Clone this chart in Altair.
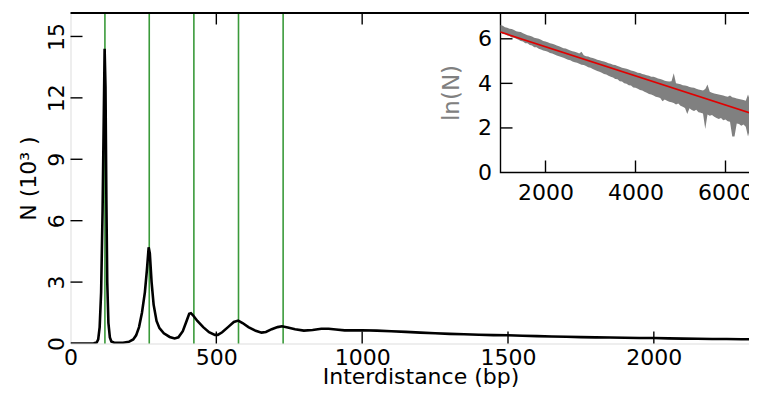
import altair as alt
import pandas as pd

# ---------------- data ----------------
# main histogram (interdistance in bp, counts in 10^3)
bp = [0, 50, 80, 90, 95, 100, 105, 110, 114, 117, 120, 123, 126, 130, 135, 140, 150,
      180, 200, 215, 225, 235, 245, 255, 262, 268, 272, 278, 285, 295, 305, 320, 340,
      357, 370, 385, 398, 407, 413, 420, 435, 455, 475, 495, 505, 520, 540, 560, 575,
      590, 610, 635, 655, 670, 690, 710, 725, 745, 770, 800, 830, 860, 885, 910, 940,
      970, 1000, 1050, 1100, 1150, 1200, 1250, 1300, 1350, 1400, 1450, 1500, 1550,
      1600, 1650, 1700, 1750, 1800, 1850, 1900, 1950, 2000, 2050, 2100, 2150, 2200,
      2250, 2300, 2350, 2400]
n_k = [0.0, 0.0, 0.01, 0.05, 0.2, 0.8, 2.5, 6.5, 11.0, 14.4, 12.5, 7.0, 3.0, 1.0, 0.3,
       0.1, 0.04, 0.04, 0.08, 0.2, 0.4, 0.8, 1.5, 2.5, 3.6, 4.7, 4.4, 3.0, 1.9, 1.1,
       0.75, 0.5, 0.32, 0.25, 0.3, 0.6, 1.1, 1.45, 1.48, 1.38, 1.1, 0.8, 0.55, 0.42,
       0.42, 0.55, 0.8, 1.05, 1.12, 1.0, 0.8, 0.62, 0.53, 0.56, 0.7, 0.8, 0.84, 0.78,
       0.7, 0.63, 0.66, 0.72, 0.72, 0.68, 0.64, 0.64, 0.65, 0.63, 0.6, 0.57, 0.53, 0.5,
       0.47, 0.45, 0.43, 0.41, 0.4, 0.38, 0.36, 0.34, 0.33, 0.31, 0.3, 0.29, 0.28, 0.27,
       0.27, 0.25, 0.24, 0.23, 0.22, 0.22, 0.21, 0.2, 0.2]
peaks = [118, 270, 423, 576, 729]
main_xticks = [0, 500, 1000, 1500, 2000]
main_yticks = [0, 3, 6, 9, 12, 15]

# inset: ln(N) band (upper / lower envelope of the noisy curve) and linear fit
inset_x = [1000, 1050, 1100, 1150, 1200, 1250, 1300, 1350, 1400, 1450, 1500, 1550,
           1600, 1650, 1700, 1750, 1800, 1850, 1900, 1950, 2000, 2050, 2100, 2150,
           2200, 2250, 2300, 2350, 2400, 2450, 2500, 2550, 2600, 2650, 2700, 2750,
           2800, 2850, 2900, 2950, 3000, 3050, 3100, 3150, 3200, 3250, 3300, 3350,
           3400, 3450, 3500, 3550, 3600, 3650, 3700, 3750, 3800, 3850, 3900, 3950,
           4000, 4050, 4100, 4150, 4200, 4250, 4300, 4350, 4400, 4450, 4500, 4550,
           4600, 4650, 4700, 4750, 4800, 4850, 4900, 4950, 5000, 5050, 5100, 5150,
           5200, 5250, 5300, 5350, 5400, 5450, 5500, 5550, 5600, 5650, 5700, 5750,
           5800, 5850, 5900, 5950, 6000, 6050, 6100, 6150, 6200, 6250, 6300, 6350,
           6400, 6450, 6500, 6550, 6600, 6650, 6700, 6750, 6800]
inset_hi = [6.62, 6.58, 6.52, 6.50, 6.45, 6.44, 6.40, 6.34, 6.32, 6.30, 6.25, 6.20,
            6.16, 6.14, 6.10, 6.05, 6.02, 6.00, 5.96, 5.90, 5.88, 5.84, 5.80, 5.78,
            5.74, 5.70, 5.66, 5.62, 5.58, 5.56, 5.52, 5.48, 5.44, 5.42, 5.38, 5.34,
            5.42, 5.26, 5.22, 5.20, 5.16, 5.14, 5.10, 5.06, 5.04, 5.00, 4.98, 4.95,
            4.90, 4.88, 4.84, 4.82, 4.78, 4.74, 4.70, 4.68, 4.66, 4.62, 4.58, 4.55,
            4.52, 4.48, 4.46, 4.42, 4.40, 4.36, 4.34, 4.30, 4.30, 4.26, 4.22, 4.20,
            4.16, 4.12, 4.10, 4.08, 4.10, 4.45, 4.00, 3.98, 3.96, 3.92, 3.90, 3.88,
            3.84, 3.82, 3.80, 3.76, 3.72, 3.70, 3.68, 3.75, 3.95, 3.62, 3.58, 3.55,
            3.52, 3.50, 3.48, 3.45, 3.42, 3.40, 3.45, 3.38, 3.35, 3.32, 3.30, 3.28,
            3.25, 3.22, 3.50, 3.20, 3.18, 3.15, 3.12, 3.10, 3.08]
inset_lo = [6.28, 6.22, 6.20, 6.15, 6.12, 6.06, 6.05, 6.00, 5.96, 5.90, 5.88, 5.80,
            5.80, 5.72, 5.70, 5.62, 5.62, 5.55, 5.52, 5.48, 5.45, 5.42, 5.36, 5.34,
            5.30, 5.25, 5.22, 5.18, 5.15, 5.10, 5.06, 5.04, 4.98, 4.95, 4.92, 4.88,
            4.84, 4.82, 4.78, 4.72, 4.70, 4.64, 4.60, 4.56, 4.52, 4.48, 4.42, 4.40,
            4.34, 4.30, 4.26, 4.20, 4.18, 4.10, 4.08, 4.00, 3.98, 3.92, 3.90, 3.82,
            3.80, 3.76, 3.70, 3.68, 3.62, 3.58, 3.52, 3.50, 3.46, 3.40, 3.38, 3.34,
            3.20, 3.28, 3.22, 3.18, 3.15, 3.12, 3.05, 3.10, 3.00, 2.95, 2.90, 2.62,
            2.88, 2.80, 2.76, 2.82, 2.70, 2.68, 2.65, 1.95, 2.60, 2.55, 2.58, 2.50,
            2.45, 2.40, 2.45, 2.35, 2.38, 2.30, 2.28, 1.62, 1.62, 2.20, 2.18, 2.10,
            2.15, 2.05, 1.62, 2.00, 1.62, 1.95, 1.62, 2.10, 2.05]
fit_x = [1000, 7000]
fit_y = [6.30, 2.37]
inset_xticks = [2000, 4000, 6000]
inset_yticks = [0, 2, 4, 6]

# ---------------- layout ----------------
W, H = 687, 331          # plot area (the right part is cropped, as in the figure)
MAIN_R = 700             # full length of the main x axis
IN_X0, IN_Y0 = 430, 160  # inset left / bottom inside the plot area
TICK = 12
FS = 22
LFS = 22
FONT = "DejaVu Sans"
LW = 1.4

xs = alt.Scale(domain=[0, 2400], range=[0, MAIN_R], nice=False, zero=False)
ys = alt.Scale(domain=[0, 16.17], nice=False, zero=False)
x_axis = alt.Axis(values=main_xticks, format="d", title="Interdistance (bp)", ticks=False,
                  tickSize=0, domain=False, grid=False, labelFontSize=LFS, titleFontSize=FS,
                  labelPadding=4, labelFlush=False, labelOverlap=False,
                  titleBaseline="alphabetic", titleY=40, titleFontWeight="normal")
y_axis = alt.Axis(values=main_yticks, title="N (10³ )", ticks=False, tickSize=0,
                  domain=False, grid=False, labelFontSize=LFS, titleFontSize=FS,
                  labelAngle=270, labelAlign="center", labelBaseline="alphabetic",
                  labelPadding=7, labelOverlap=False, titleAngle=270,
                  titleAlign="center", titleBaseline="alphabetic", titleX=-35,
                  titleY=H / 2, titleFontWeight="normal")

X = lambda: alt.X("bp:Q", scale=xs, axis=x_axis)
Y = lambda: alt.Y("n:Q", scale=ys, axis=y_axis)

main_df = pd.DataFrame({"bp": bp, "n": n_k})
line = alt.Chart(main_df).mark_line(color="black", strokeWidth=2.6, clip=True).encode(x=X(), y=Y())
green = alt.Chart(pd.DataFrame({"bp": peaks})).mark_rule(
    color="#3a9a3a", strokeWidth=1.6).encode(x=X())
xt_df = pd.DataFrame({"bp": main_xticks[1:]})
xt_bot = alt.Chart(xt_df).mark_rule(color="black", strokeWidth=LW).encode(
    x=X(), y=alt.value(H), y2=alt.value(H - TICK))
xt_top = alt.Chart(xt_df).mark_rule(color="black", strokeWidth=LW).encode(
    x=X(), y=alt.value(0), y2=alt.value(TICK))
yt = alt.Chart(pd.DataFrame({"n": main_yticks[1:]})).mark_rule(
    color="black", strokeWidth=LW).encode(y=Y(), x=alt.value(0), x2=alt.value(TICK))
main = alt.layer(green, line, xt_bot, xt_top, yt)

# inset
isx = alt.Scale(domain=[1000, 7000], range=[IN_X0, MAIN_R], nice=False, zero=False)
isy = alt.Scale(domain=[0, 7.18], range=[IN_Y0, 0], nice=False, zero=False)
ix_axis = alt.Axis(orient="bottom", offset=-(H - IN_Y0), values=inset_xticks, format="d",
                   title="", ticks=False, tickSize=0, domain=False, grid=False,
                   labelFontSize=LFS, labelPadding=10, labelFlush=False, labelOverlap=False)
iy_axis = alt.Axis(orient="left", offset=-IN_X0, values=inset_yticks, title="ln(N)",
                   titleColor="#808080", ticks=False, tickSize=0, domain=False, grid=False,
                   labelFontSize=LFS, titleFontSize=23, labelPadding=9, labelOverlap=False,
                   titleAngle=270, titleAlign="center", titleBaseline="alphabetic",
                   titleX=-42, titleY=IN_Y0 / 2, titleFontWeight="normal")
IX = lambda: alt.X("ix:Q", scale=isx, axis=ix_axis)
IY = lambda: alt.Y("ly:Q", scale=isy, axis=iy_axis)

box = alt.Chart(pd.DataFrame({"ix": [1000], "ix2": [7200], "ly": [0.0], "ly2": [7.18]})).mark_rect(
    fill="white", stroke="black", strokeWidth=LW, clip=True).encode(
    x=IX(), x2="ix2:Q", y=IY(), y2="ly2:Q")
band = alt.Chart(pd.DataFrame({"ix": inset_x, "ly": inset_hi, "ly2": inset_lo})).mark_area(
    color="#808080", clip=True).encode(x=IX(), y=IY(), y2="ly2:Q")
fit = alt.Chart(pd.DataFrame({"ix": fit_x, "ly": fit_y})).mark_line(
    color="#e00000", strokeWidth=1.6, clip=True).encode(x=IX(), y=IY())
it_df = pd.DataFrame({"ix": inset_xticks})
it_bot = alt.Chart(it_df).mark_rule(color="black", strokeWidth=LW).encode(
    x=IX(), y=alt.value(IN_Y0), y2=alt.value(IN_Y0 - TICK))
it_top = alt.Chart(it_df).mark_rule(color="black", strokeWidth=LW).encode(
    x=IX(), y=alt.value(0), y2=alt.value(TICK))
ity = alt.Chart(pd.DataFrame({"ly": inset_yticks[1:]})).mark_rule(
    color="black", strokeWidth=LW).encode(y=IY(), x=alt.value(IN_X0), x2=alt.value(IN_X0 + TICK))
# top spine of the figure frame, drawn above the inset's white background
top_spine = alt.Chart(pd.DataFrame({"s": [0]})).mark_rule(color="black", strokeWidth=2).encode(
    x=alt.value(0), x2=alt.value(W), y=alt.value(0.5))
inset = alt.layer(box, band, fit, it_bot, it_top, ity, top_spine)

# negative right padding: the svg stops where the page does, cropping the plot's right side
chart = alt.layer(main, inset).resolve_scale(x="independent", y="independent").properties(
    width=W, height=H, autosize=alt.AutoSizeParams(type="none"),
    padding={"left": 62.5, "top": 4.5, "right": -8.5, "bottom": 45.5},
).configure_view(stroke="black", strokeWidth=LW).configure(
    font=FONT).configure_axis(labelColor="black", titleColor="black", labelFont=FONT,
                               titleFont=FONT)

chart.save("out.html", embed_options={"renderer": "svg", "actions": False})
